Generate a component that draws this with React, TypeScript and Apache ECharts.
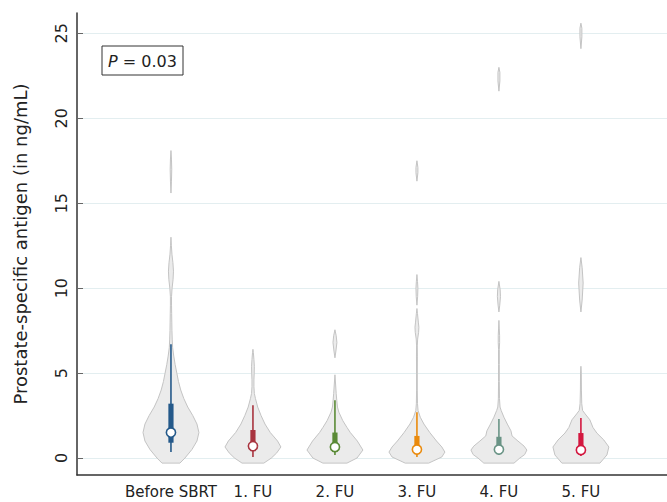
import React, { useEffect, useRef } from "react";
import * as echarts from "echarts";

const categories = ["Before SBRT", "1. FU", "2. FU", "3. FU", "4. FU", "5. FU"];
const yTicks = [0, 5, 10, 15, 20, 25];
const categoryPositions = [1, 2, 3, 4, 5, 6];

// box statistics (ng/mL)
const whiskerLow = [0.35, 0.06, 0.18, 0.06, 0.18, 0.12];
const quartile1 = [0.9, 0.4, 0.35, 0.25, 0.3, 0.3];
const medians = [1.5, 0.7, 0.65, 0.5, 0.5, 0.47];
const quartile3 = [3.2, 1.65, 1.5, 1.3, 1.25, 1.47];
const whiskerHigh = [6.7, 3.1, 3.4, 2.7, 2.3, 2.36];

const groupColors = ["#24598a", "#a8343f", "#5a8a36", "#ea8a0c", "#6a9486", "#d3173f"];

// violin outlines: segments of [value, relative density in % of the widest point]
const violinBefore = [
  [[-0.3, 32], [0.0, 50], [0.5, 75], [1.0, 93], [1.5, 100], [2.0, 93], [2.5, 78], [3.0, 60], [3.5, 46], [4.0, 35], [4.5, 27], [5.0, 21], [5.5, 15], [6.0, 10], [6.5, 6], [7.0, 4.5], [7.5, 3.5], [8.0, 3], [8.5, 2.5], [9.0, 2], [9.5, 2], [10.0, 4], [10.5, 7.5], [11.0, 9], [11.5, 7], [12.0, 3.5], [12.5, 1.5], [13.0, 0]],
  [[15.6, 0], [16.3, 1.8], [17.0, 2.8], [17.6, 1.8], [18.1, 0]],
];
const violinFu1 = [
  [[-0.3, 39], [0.0, 66], [0.3, 85], [0.65, 100], [1.0, 88], [1.5, 62], [2.0, 43], [2.5, 29], [3.0, 17], [3.5, 9], [3.8, 5], [4.2, 3.5], [4.6, 3.5], [5.0, 4.5], [5.4, 5], [5.8, 3.5], [6.2, 1.5], [6.4, 0]],
];
const violinFu2 = [
  [[-0.3, 43], [0.0, 79], [0.47, 100], [1.0, 80], [1.5, 55], [1.8, 43], [2.2, 28], [2.7, 14], [3.0, 9], [3.4, 6.5], [3.8, 4.5], [4.3, 2.5], [4.9, 0]],
  [[5.9, 0], [6.3, 3.5], [6.8, 7], [7.2, 4.5], [7.55, 0]],
];
const violinFu3 = [
  [[-0.3, 42], [0.06, 89], [0.35, 100], [0.65, 89], [1.0, 70], [1.5, 46], [2.0, 25], [2.4, 12], [2.8, 4], [3.2, 2], [4.0, 1.3], [5.0, 1.3], [6.0, 1.6], [6.6, 1.3], [7.0, 2.5], [7.4, 6], [7.7, 7], [8.0, 5], [8.5, 2], [8.8, 0]],
  [[9.0, 0], [9.5, 2.5], [10.0, 3.5], [10.4, 2], [10.8, 0]],
  [[16.3, 0], [16.8, 3.5], [17.1, 3.5], [17.5, 0]],
];
const violinFu4 = [
  [[-0.3, 54], [0.0, 75], [0.2, 92], [0.47, 100], [0.7, 90], [1.0, 68], [1.3, 47], [1.6, 43], [2.0, 30], [2.4, 18], [2.8, 8], [3.0, 4], [3.5, 2], [4.5, 1.3], [5.5, 1.3], [6.4, 1.3], [6.8, 2.5], [7.2, 2.5], [7.6, 1.3], [8.1, 0]],
  [[8.6, 0], [9.0, 3], [9.5, 5.5], [9.9, 4.5], [10.4, 0]],
  [[21.6, 0], [22.2, 3.5], [22.7, 3.5], [23.0, 0]],
];
const violinFu5 = [
  [[-0.3, 68], [0.18, 93], [0.65, 100], [1.06, 82], [1.47, 57], [1.8, 43], [2.25, 32], [2.6, 15], [2.8, 6], [3.2, 3], [4.0, 1.8], [5.0, 1.3], [5.4, 0]],
  [[8.6, 0], [9.3, 4.5], [10.3, 8], [11.2, 4.5], [11.8, 0]],
  [[24.1, 0], [24.8, 3.5], [25.3, 3.5], [25.6, 0]],
];
const violins = [violinBefore, violinFu1, violinFu2, violinFu3, violinFu4, violinFu5];

const FONT = "DejaVu Sans";
const HALF = 0.341; // max half width of a violin in x-axis units

export default function App() {
  const ref = useRef<HTMLDivElement>(null);
  useEffect(() => {
    if (!ref.current) return;
    const chart = echarts.init(ref.current, null, { renderer: "svg" });
    const option: any = {
      animation: false,
      backgroundColor: "#ffffff",
      grid: { left: 77, right: 0, top: 13, bottom: 27, containLabel: false, outerBoundsMode: "none" },
      xAxis: {
        type: "value",
        min: -0.146,
        max: 7.05,
        splitLine: { show: false },
        axisTick: { show: false },
        axisLine: { show: true, onZero: false, lineStyle: { color: "#333333", width: 1.5 } },
        axisLabel: {
          customValues: categoryPositions,
          formatter: (v: number) => categories[Math.round(v) - 1] ?? "",
          fontFamily: FONT,
          fontSize: 15,
          color: "#222222",
          margin: 9,
        },
      },
      yAxis: {
        type: "value",
        min: -1,
        max: 26.2,
        name: "Prostate-specific antigen (in ng/mL)",
        nameLocation: "middle",
        nameGap: 48,
        nameTextStyle: { fontFamily: FONT, fontSize: 18, color: "#222222" },
        axisLine: { show: true, onZero: false, lineStyle: { color: "#333333", width: 1.5 } },
        axisTick: { show: true, inside: true, length: 6, customValues: yTicks, lineStyle: { color: "#666666" } },
        splitLine: { show: true, lineStyle: { color: "#e3eef0", width: 1 } },
        axisLabel: {
          customValues: yTicks,
          rotate: 90,
          fontFamily: FONT,
          fontSize: 16,
          color: "#222222",
          margin: 8,
        },
      },
      graphic: [
        {
          type: "rect",
          shape: { x: 102, y: 46, width: 81, height: 29 },
          style: { fill: "#ffffff", stroke: "#333333", lineWidth: 1 },
          z: 100,
        },
        {
          type: "text",
          x: 142.5,
          y: 61,
          z: 101,
          style: {
            text: "{i|P} = 0.03",
            align: "center",
            verticalAlign: "middle",
            fontFamily: FONT,
            fontSize: 16,
            fill: "#222222",
            rich: {
              i: { fontStyle: "italic", fontFamily: FONT, fontSize: 16, fill: "#222222" },
            },
          },
        },
      ],
      series: [
        {
          type: "custom",
          data: categoryPositions.map((p, i) => [p, medians[i]]),
          encode: { x: 0, y: 1 },
          renderItem: (params: any, api: any) => {
            const i = params.dataIndex;
            const cx = categoryPositions[i];
            const color = groupColors[i];
            const children: any[] = [];
            for (const seg of violins[i]) {
              const left = seg.map(([v, d]) => api.coord([cx - (d / 100) * HALF, v]));
              const right = seg
                .slice()
                .reverse()
                .map(([v, d]) => api.coord([cx + (d / 100) * HALF, v]));
              children.push({
                type: "polygon",
                shape: { points: [...left, ...right] },
                style: { fill: "#ebebeb", stroke: "#c4c4c4", lineWidth: 1 },
              });
            }
            const [px, yLo] = api.coord([cx, whiskerLow[i]]);
            const yHi = api.coord([cx, whiskerHigh[i]])[1];
            const yQ1 = api.coord([cx, quartile1[i]])[1];
            const yQ3 = api.coord([cx, quartile3[i]])[1];
            const yMed = api.coord([cx, medians[i]])[1];
            children.push({
              type: "line",
              shape: { x1: px, y1: yLo, x2: px, y2: yHi },
              style: { stroke: color, lineWidth: 1.6 },
            });
            children.push({
              type: "rect",
              shape: { x: px - 2.6, y: yQ3, width: 5.2, height: yQ1 - yQ3 },
              style: { fill: color },
            });
            children.push({
              type: "circle",
              shape: { cx: px, cy: yMed, r: 4.6 },
              style: { fill: "#ffffff", stroke: color, lineWidth: 1.6 },
            });
            return { type: "group", children };
          },
          z: 10,
        },
      ],
    };
    chart.setOption(option);
    return () => chart.dispose();
  }, []);
  return (
    <div
      ref={ref}
      style={{ position: "absolute", left: 0, top: 0, width: 667, height: 502, background: "#fff" }}
    />
  );
}
